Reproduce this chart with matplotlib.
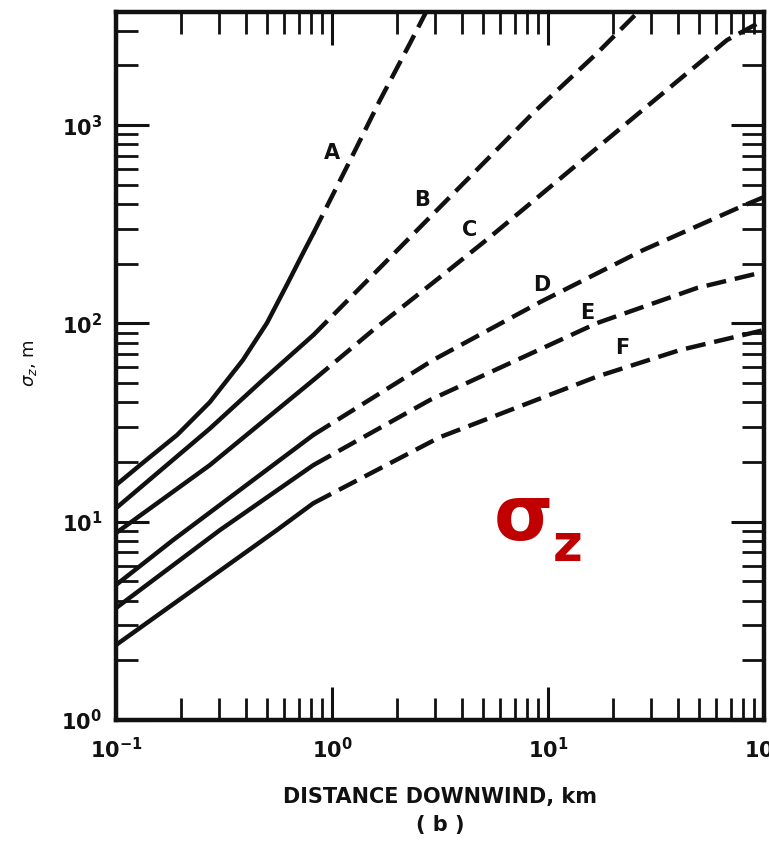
import matplotlib.pyplot as plt
import numpy as np
from matplotlib.ticker import LogLocator, NullFormatter

# Pasquill-Gifford vertical dispersion
# x: distance downwind (km), y: sigma_z (m)
classes = ['A', 'B', 'C', 'D', 'E', 'F']

a_x = [0.1, 0.133, 0.192, 0.272, 0.387, 0.5, 0.619, 0.734, 0.82, 1.21, 1.67, 2.30, 2.72]
a_y = [15.3, 19.8, 27.4, 40.1, 65.4, 100.5, 157, 226, 285, 660, 1339, 2594, 3700]
b_x = [0.1, 0.272, 0.48, 0.82, 3.16, 8.53, 16.9, 26]
b_y = [11.7, 29.5, 52, 87.4, 386, 1151, 2310, 3700]
c_x = [0.1, 0.272, 0.82, 1.55, 3.16, 5.22, 17.4, 67.4, 100]
c_y = [8.77, 19.3, 51.8, 92.6, 171, 265, 790, 2686, 3390]
d_x = [0.1, 0.184, 0.82, 2.94, 9.18, 27.5, 77.4, 100]
d_y = [4.80, 8.09, 27.4, 65.4, 128, 234, 386, 434]
e_x = [0.1, 0.303, 0.82, 2.84, 16.9, 49.0, 100]
e_y = [3.67, 9.08, 19.3, 41.1, 100.5, 151, 182]
f_x = [0.1, 0.556, 0.82, 3.16, 16.9, 40.8, 100]
f_y = [2.39, 9.08, 12.4, 26.7, 54, 73.4, 92.6]

# beyond this distance the curves are extrapolated (dashed)
solid_limit = 0.82

label_x = [1.0, 2.61, 4.35, 9.38, 15.2, 22.0]
label_y = [723, 419, 296, 156, 113, 75.2]

curves = [(a_x, a_y), (b_x, b_y), (c_x, c_y), (d_x, d_y), (e_x, e_y), (f_x, f_y)]

fig = plt.figure(figsize=(7.69, 8.58), dpi=100)
ax = fig.add_axes([0.1508, 0.1608, 0.8427, 0.8252])

ink = '#111111'
for xs, ys in curves:
    xs = np.array(xs)
    ys = np.array(ys)
    solid = xs <= solid_limit
    dashed = xs >= solid_limit
    ax.plot(xs[solid], ys[solid], color=ink, lw=3.2, solid_capstyle='round',
            solid_joinstyle='round')
    ax.plot(xs[dashed], ys[dashed], color=ink, lw=3.2, linestyle=(0, (4.5, 2.0)))

for name, lx, ly in zip(classes, label_x, label_y):
    ax.text(lx, ly, name, ha='center', va='center', fontsize=15,
            fontweight='bold', color=ink)

ax.set_xscale('log')
ax.set_yscale('log')
ax.set_xlim(0.1, 100)
ax.set_ylim(1, 3720)

for axis in (ax.xaxis, ax.yaxis):
    axis.set_major_locator(LogLocator(base=10))
    axis.set_minor_locator(LogLocator(base=10, subs=np.arange(2, 10)))
    axis.set_minor_formatter(NullFormatter())

ax.tick_params(which='both', direction='in', top=True, right=True,
               color=ink, labelsize=15, labelcolor=ink)
ax.tick_params(which='major', length=24, width=2.2)
ax.tick_params(which='minor', length=16, width=2.0)
ax.tick_params(axis='x', pad=12)
ax.tick_params(axis='y', pad=10)
plt.setp(ax.get_xticklabels() + ax.get_yticklabels(), fontweight='bold')
for spine in ax.spines.values():
    spine.set_linewidth(3.2)
    spine.set_color(ink)

ax.set_xlabel('DISTANCE DOWNWIND, km', fontsize=15, fontweight='bold', color=ink)
ax.xaxis.set_label_coords(0.5, -0.109)
ax.xaxis.label.set_va('center')
ax.set_ylabel(r'$\sigma_z$, m', fontsize=13, color=ink)
ax.yaxis.set_label_coords(-0.133, 0.504)
ax.yaxis.label.set_va('center')

fig.text(440 / 769, 1 - 825 / 858, '( b )', ha='center', va='center',
         fontsize=15, fontweight='bold', color=ink)

# red annotation
fig.text(494 / 769, 1 - 540 / 858, 'σ', fontsize=55, fontweight='bold',
         color='#C00000', ha='left', va='baseline')
fig.text(553 / 769, 1 - 561 / 858, 'z', fontsize=37, fontweight='bold',
         color='#C00000', ha='left', va='baseline')

fig.savefig('out.png', dpi=100)
plt.close(fig)
